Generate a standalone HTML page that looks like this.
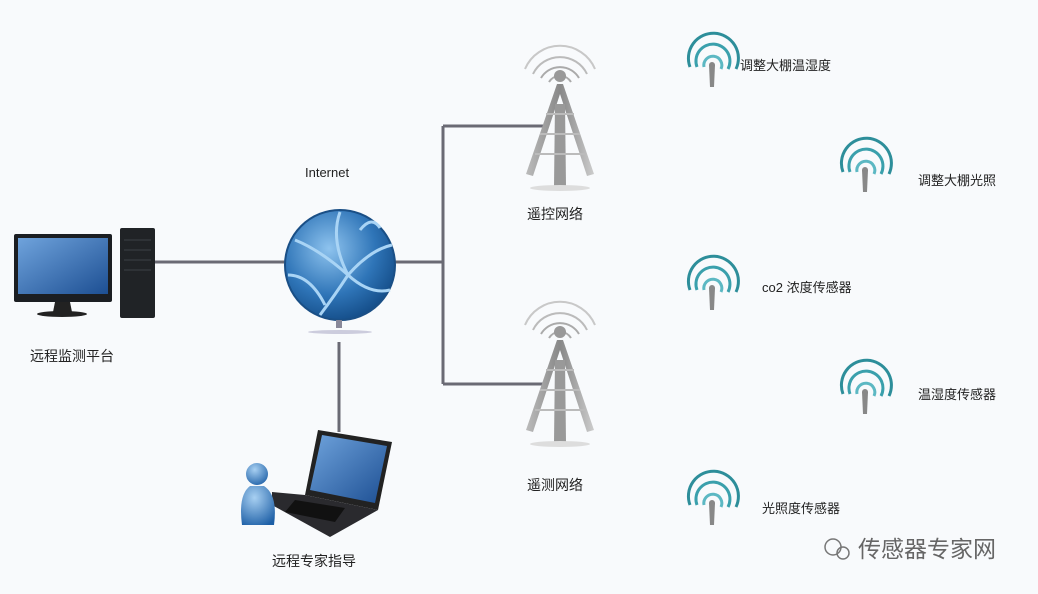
<!DOCTYPE html>
<html><head><meta charset="utf-8"><style>
html,body{margin:0;padding:0;background:#f8fafc;}
svg{display:block}
text{font-family:"Liberation Sans","Noto Sans CJK SC",sans-serif;fill:#222;}
</style></head><body>
<svg width="1038" height="594" viewBox="0 0 1038 594" xmlns="http://www.w3.org/2000/svg">
<defs>
<linearGradient id="scr" x1="0" y1="0" x2="1" y2="1"><stop offset="0" stop-color="#6fa3dc"/><stop offset="1" stop-color="#1d4f93"/></linearGradient>
<radialGradient id="glb" cx="0.4" cy="0.35" r="0.7"><stop offset="0" stop-color="#8ec3ee"/><stop offset="0.6" stop-color="#2f75b8"/><stop offset="1" stop-color="#124a85"/></radialGradient>
<radialGradient id="per" cx="0.4" cy="0.3" r="0.8"><stop offset="0" stop-color="#a8d0f2"/><stop offset="1" stop-color="#1d5fa6"/></radialGradient>
<linearGradient id="tw" x1="0" y1="0" x2="1" y2="0"><stop offset="0" stop-color="#bbb"/><stop offset="0.5" stop-color="#888"/><stop offset="1" stop-color="#ccc"/></linearGradient>
<g id="tower">
 <path d="M-35 -35 A38 38 0 0 1 35 -35" fill="none" stroke="#c8c8c8" stroke-width="2"/>
 <path d="M-27 -30 A30 30 0 0 1 27 -30" fill="none" stroke="#bbb" stroke-width="2"/>
 <path d="M-19 -26 A22 22 0 0 1 19 -26" fill="none" stroke="#aaa" stroke-width="2"/>
 <path d="M-11 -22 A13 13 0 0 1 11 -22" fill="none" stroke="#aaa" stroke-width="2"/>
 <circle cx="0" cy="-28" r="6" fill="#999"/>
 <path d="M-3 -20 L-34 70 L-27 72 L0 -10 L27 72 L34 70 L3 -20Z" fill="url(#tw)"/>
 <path d="M-5 0 L-6 82 L6 82 L5 0Z" fill="#999"/>
 <path d="M-20 30 L20 30 M-14 10 L14 10 M-25 50 L25 50" stroke="#bbb" stroke-width="2"/>
 <ellipse cx="0" cy="84" rx="30" ry="3" fill="#ddd"/>
</g>
<g id="sensor">
 <path d="M-22 2 A25 25 0 1 1 24 4" fill="none" stroke="#2d8e9a" stroke-width="3"/>
 <path d="M-15 2 A17 17 0 1 1 16 4" fill="none" stroke="#3aa0ac" stroke-width="3"/>
 <path d="M-8 2 A9 9 0 1 1 9 4" fill="none" stroke="#5cb8c3" stroke-width="3"/>
 <path d="M-3 0 L3 0 L2 22 L-2 22Z" fill="#888"/>
 <circle cx="0" cy="0" r="3" fill="#888"/>
</g>
</defs>
<rect width="1038" height="594" fill="#f8fafc"/>
<g stroke="#6a6a74" stroke-width="3" fill="none">
 <line x1="150" y1="262" x2="290" y2="262"/>
 <line x1="390" y1="262" x2="443" y2="262"/>
 <line x1="443" y1="126" x2="443" y2="384"/>
 <line x1="443" y1="126" x2="545" y2="126"/>
 <line x1="443" y1="384" x2="545" y2="384"/>
 <line x1="339" y1="342" x2="339" y2="432"/>
</g>
<rect x="14" y="234" width="98" height="68" rx="2" fill="#1b1e22"/>
<rect x="18" y="238" width="90" height="56" fill="url(#scr)"/>
<path d="M55 302 L70 302 L72 312 L53 312Z" fill="#222"/>
<ellipse cx="62" cy="314" rx="25" ry="3" fill="#222"/>
<rect x="120" y="228" width="35" height="90" rx="2" fill="#202326"/>
<g stroke="#3c4045" stroke-width="1"><line x1="124" y1="240" x2="151" y2="240"/><line x1="124" y1="250" x2="151" y2="250"/><line x1="124" y1="260" x2="151" y2="260"/><line x1="124" y1="270" x2="151" y2="270"/></g>
<text x="30" y="361" font-size="14">远程监测平台</text>
<circle cx="340" cy="265" r="55" fill="url(#glb)" stroke="#1a4f86" stroke-width="2"/>
<g stroke="#a9d4f5" stroke-width="3" fill="none">
 <path d="M295 240 Q320 250 348 275 Q370 250 392 245"/>
 <path d="M348 275 Q335 295 320 315"/>
 <path d="M348 275 Q370 295 390 290"/>
 <path d="M340 212 Q330 240 348 275"/>
 <path d="M288 275 Q310 275 325 305"/>
 <path d="M360 230 Q372 215 380 228"/>
</g>
<rect x="336" y="320" width="6" height="8" fill="#889"/>
<ellipse cx="340" cy="332" rx="32" ry="2" fill="#ccd"/>
<text x="305" y="177" font-size="13">Internet</text>
<!-- laptop -->
<path d="M318 430 L392 442 L378 510 L305 495Z" fill="#222"/>
<path d="M322 435 L387 446 L375 503 L310 490Z" fill="url(#scr)"/>
<path d="M272 492 L305 495 L378 510 L330 537 L272 505Z" fill="#2a2a2e"/>
<path d="M295 500 L345 508 L335 522 L285 512Z" fill="#111"/>
<circle cx="257" cy="474" r="11" fill="url(#per)"/>
<path d="M242 525 Q238 495 250 486 L264 486 Q278 495 274 525Z" fill="url(#per)"/>
<text x="272" y="566" font-size="14">远程专家指导</text>
<use href="#tower" x="560" y="104"/>
<text x="527" y="219" font-size="14">遥控网络</text>
<use href="#tower" x="560" y="360"/>
<text x="527" y="490" font-size="14">遥测网络</text>
<use href="#sensor" x="712" y="65"/>
<text x="740" y="70" font-size="13">调整大棚温湿度</text>
<use href="#sensor" x="865" y="170"/>
<text x="918" y="185" font-size="13">调整大棚光照</text>
<use href="#sensor" x="712" y="288"/>
<text x="762" y="292" font-size="13">co2 浓度传感器</text>
<use href="#sensor" x="865" y="392"/>
<text x="918" y="399" font-size="13">温湿度传感器</text>
<use href="#sensor" x="712" y="503"/>
<text x="762" y="513" font-size="13">光照度传感器</text>
<circle cx="833" cy="547" r="8" fill="none" stroke="#777" stroke-width="1.5"/>
<circle cx="843" cy="553" r="6" fill="none" stroke="#777" stroke-width="1.5"/>
<text x="858" y="557" font-size="23" style="fill:#666">传感器专家网</text>
</svg>
</body></html>
